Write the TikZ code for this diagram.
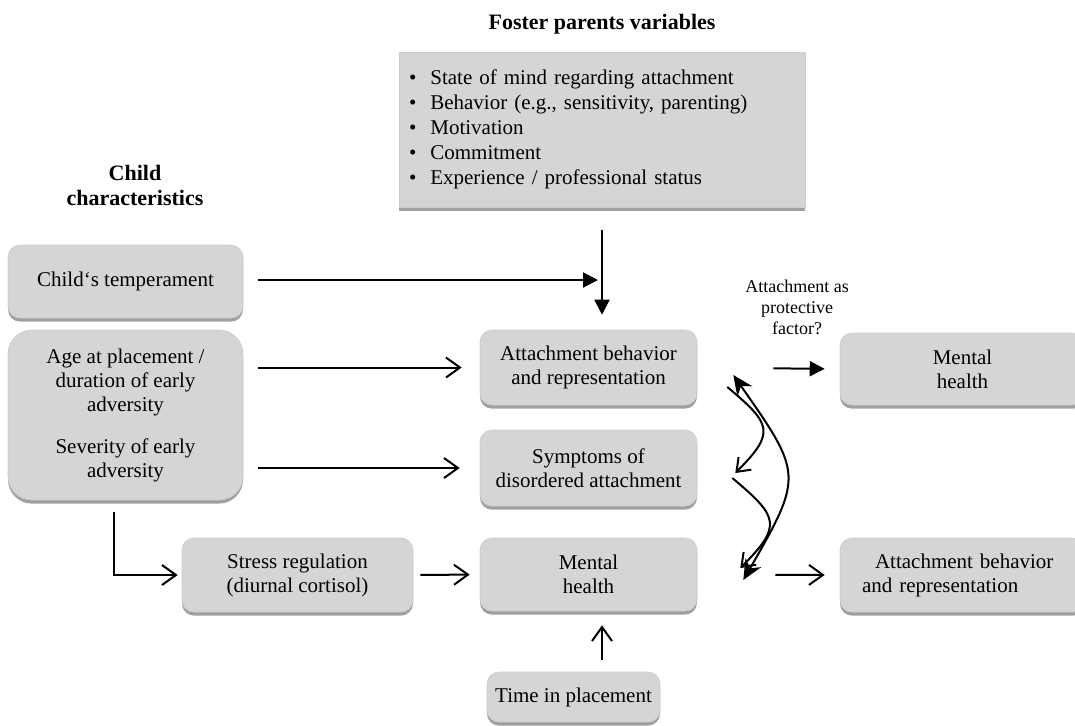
\documentclass[tikz,border=0pt]{standalone}
\usepackage{fontspec}
\setmainfont{Liberation Serif}
\usetikzlibrary{arrows.meta,shadows}

\definecolor{boxgray}{RGB}{212,213,215}
\definecolor{shadegray}{RGB}{160,160,160}

\tikzset{
  factor/.style={rounded corners=6pt, fill=boxgray, draw=gray!40, line width=0.3pt,
    align=center, inner sep=2pt, font=\fontsize{10.5}{12}\selectfont,
    drop shadow={shadow xshift=0pt, shadow yshift=-1.8pt, fill=shadegray, opacity=1}},
  heading/.style={font=\fontsize{11}{12.5}\selectfont\bfseries, align=center},
  openarr/.style={line width=1pt, -{Straight Barb[length=7pt,width=10pt]}},
  fillarr/.style={line width=1pt, -{Triangle[length=7.5pt,width=7.5pt]}},
  bendarr/.style={line width=1pt, -{Straight Barb[length=6pt,width=9pt]}},
}

\begin{document}
\begin{tikzpicture}[x=0.5pt,y=-0.5pt]
\useasboundingbox (0,0) rectangle (1075,725);
\clip (0,0) rectangle (1075,725);

% headings
\node[heading] (fosterhead) at (602,24) {Foster parents variables};
\node[heading] (childhead) at (135,185) {Child\\characteristics};

% foster parents
\node[factor, rounded corners=0pt, minimum height=77.5pt, text width=193pt, inner xsep=5pt,
  align=left, font=\fontsize{10.5}{12.5}\selectfont] (foster) at (602,129.5)
  {\textbullet\hspace{7pt}State of mind regarding attachment\\
   \textbullet\hspace{7pt}Behavior (e.g., sensitivity, parenting)\\
   \textbullet\hspace{7pt}Motivation\\
   \textbullet\hspace{7pt}Commitment\\
   \textbullet\hspace{7pt}Experience / professional status};

% child side
\node[factor, minimum width=117.5pt, minimum height=36.5pt] (temp) at (125.5,281.5) {Child`s temperament};
\node[factor, rounded corners=12pt, minimum width=117.5pt, minimum height=85pt] (age) at (125.5,415)
  {Age at placement /\\duration of early\\adversity\\[9pt]Severity of early\\adversity};
\node[factor, minimum width=115.5pt, minimum height=37pt] (stress) at (297.5,575) {Stress regulation\\(diurnal cortisol)};

% middle column
\node[factor, minimum width=108.5pt, minimum height=37.5pt] (att) at (588.5,367.5) {Attachment behavior\\and representation};
\node[factor, minimum width=108.5pt, minimum height=38pt] (sym) at (588.5,468) {Symptoms of\\disordered attachment};
\node[factor, minimum width=108.5pt, minimum height=36.5pt] (mh) at (588.5,574.5) {Mental\\health};
\node[factor, minimum width=86.5pt, minimum height=25pt] (time) at (573.5,697) {Time in placement};

% right column
\node[factor, minimum width=122.5pt, minimum height=36pt] (mhR) at (962.5,369) {Mental\\health};
\node[factor, minimum height=37pt, text width=100.5pt, inner xsep=11pt, align=left] (attR) at (962.5,575)
  {\hspace*{6.5pt}Attachment behavior\\and representation};

\node[font=\fontsize{9}{10.5}\selectfont, align=center] (protect) at (797,307) {Attachment as\\protective\\factor?};

% arrows
\coordinate (join) at (602,280);
\draw[fillarr, shorten <=7.5pt, shorten >=2pt] (temp.east |- join) -- (join);
\draw[fillarr, shorten <=11.5pt, shorten >=7.5pt] (foster.south -| join) -- (att.north -| join);
\draw[openarr, shorten <=7.5pt, shorten >=9pt] (age.east |- att.west) -- (att.west);
\draw[openarr, shorten <=7.5pt, shorten >=10pt] (age.east |- sym.west) -- (sym.west);
\draw[openarr, shorten <=6pt, shorten >=2pt] ([xshift=-6pt]age.south) |- (stress.west);
\draw[openarr, shorten <=3.5pt, shorten >=5pt] (stress.east) -- (mh.west);
\draw[openarr, shorten <=6pt, shorten >=7pt] (time.north -| join) -- (mh.south -| join);
\draw[openarr, shorten <=39pt, shorten >=7.5pt] (mh.east) -- (attR.west);
\draw[fillarr, shorten <=38pt, shorten >=7.5pt] (att.east) -- (mhR.west);

% bent arrows on the right
\draw[bendarr] ([shift={(15pt,-9.75pt)}]att.east) to[out=-40,in=45,looseness=1.7] ([shift={(19pt,-2.5pt)}]sym.east);
\draw[bendarr] ([shift={(17.5pt,-5pt)}]sym.east) to[out=-40,in=45,looseness=1.7] ([shift={(21.5pt,3.25pt)}]mh.east);
\draw[line width=1pt, {Stealth[length=10pt,width=9pt]}-{Stealth[length=10pt,width=9pt]}]
  ([shift={(18pt,-3.75pt)}]att.east) to[out=-55,in=60,looseness=1.5] ([shift={(23pt,-2.75pt)}]mh.east);
\end{tikzpicture}
\end{document}
